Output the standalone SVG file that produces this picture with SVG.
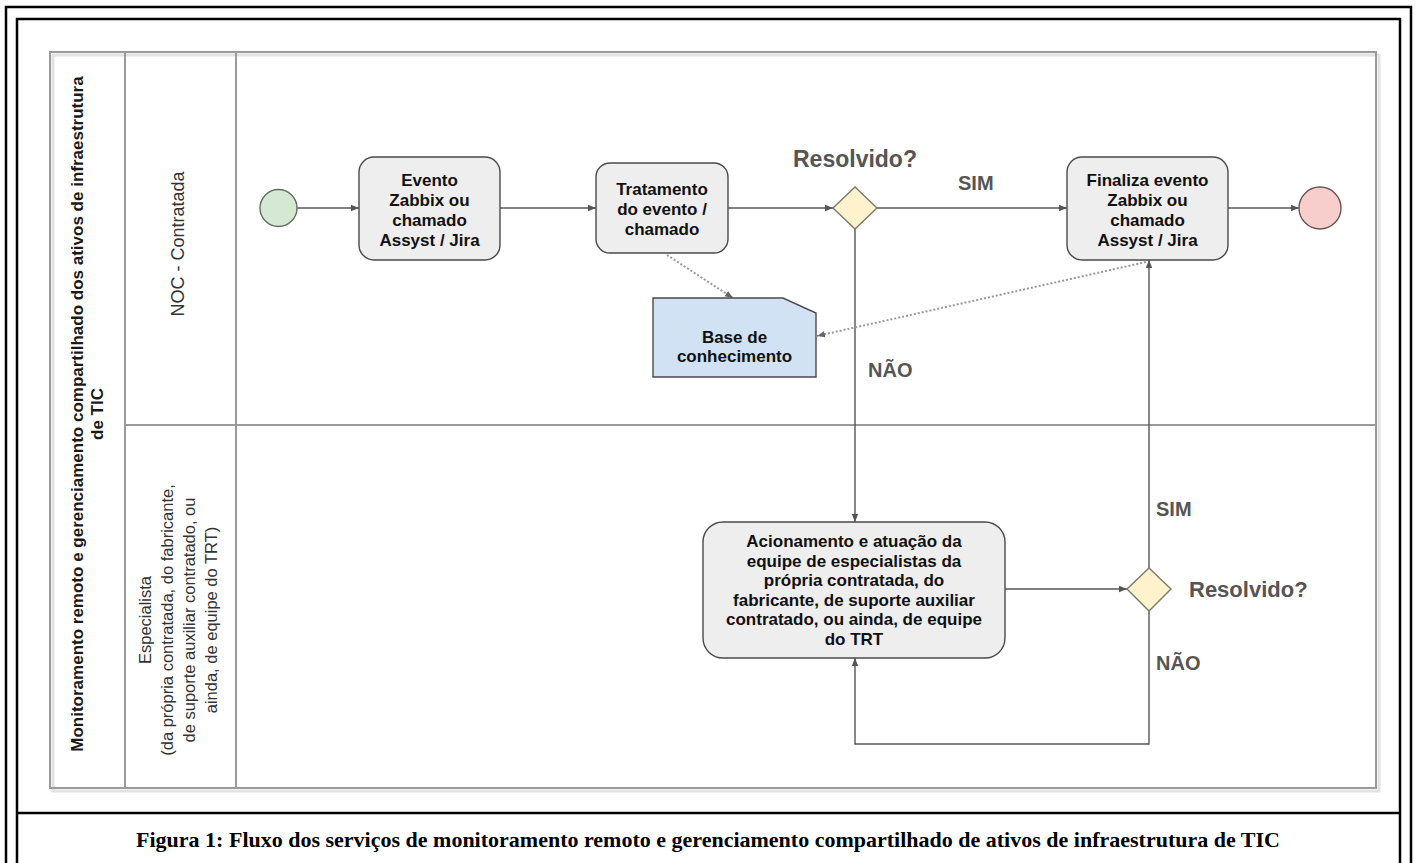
<svg xmlns="http://www.w3.org/2000/svg" width="1416" height="863" viewBox="0 0 1416 863">
<style>
.frame{fill:none;stroke:#000;stroke-width:2.5}
.pool{fill:none;stroke:#9a9a9a;stroke-width:2}
.shadow{fill:none;stroke:#e2e2e2;stroke-width:3}
.task{fill:#eeeeee;stroke:#4a4a4a;stroke-width:1.4}
.data{fill:#d0e2f3;stroke:#4a4a4a;stroke-width:1.4}
.gw{fill:#fff2cc;stroke:#7a7a6a;stroke-width:1.4}
.flow{fill:none;stroke:#555;stroke-width:1.4}
.assoc{fill:none;stroke:#9a9a9a;stroke-width:2;stroke-dasharray:2 2}
.t{font-family:"Liberation Sans",Arial,sans-serif;font-weight:bold;font-size:17px;fill:#111;text-anchor:middle}
.lbl{font-family:"Liberation Sans",Arial,sans-serif;font-weight:bold;font-size:20px;fill:#555}
.lane{font-family:"Liberation Sans",Arial,sans-serif;font-size:16.5px;fill:#333;text-anchor:middle}
.title{font-family:"Liberation Sans",Arial,sans-serif;font-weight:bold;font-size:17px;fill:#1a1a1a;text-anchor:middle}
.cap{font-family:"Liberation Serif","Times New Roman",serif;font-weight:bold;font-size:22px;fill:#000;text-anchor:middle}
</style>
<defs>
<marker id="arr" viewBox="0 0 10 10" refX="10" refY="5" markerWidth="8" markerHeight="8" markerUnits="userSpaceOnUse" orient="auto">
<path d="M0,1 L10,5 L0,9 z" fill="#555"/>
</marker>
<marker id="arrd" viewBox="0 0 10 10" refX="10" refY="5" markerWidth="8" markerHeight="8" markerUnits="userSpaceOnUse" orient="auto">
<path d="M0,1 L10,5 L0,9 z" fill="#666"/>
</marker>
</defs>
<rect x="0" y="0" width="1416" height="863" fill="#fff"/>
<g id="frame">
<rect class="frame" x="6" y="7" width="1405" height="866"/>
<rect class="frame" x="17" y="19" width="1383" height="854"/>
<line class="frame" x1="17" y1="813" x2="1400" y2="813"/>
</g>
<g id="pool">
<rect class="shadow" x="53" y="55" width="1326" height="736"/>
<rect class="pool" x="50" y="52" width="1326" height="736" fill="#fff"/>
<line class="pool" x1="125" y1="52" x2="125" y2="788"/>
<line class="pool" x1="236" y1="52" x2="236" y2="788"/>
<line class="pool" x1="125" y1="425" x2="1376" y2="425"/>
<text class="title" transform="translate(83,414) rotate(-90)">Monitoramento remoto e gerenciamento compartilhado dos ativos de infraestrutura</text>
<text class="title" transform="translate(103,414) rotate(-90)">de TIC</text>
<text class="lane" style="font-size:18px" transform="translate(184,244) rotate(-90)">NOC - Contratada</text>
<g transform="translate(0,620) rotate(-90)">
<text class="lane" x="0" y="151">Especialista</text>
<text class="lane" x="0" y="173">(da própria contratada, do fabricante,</text>
<text class="lane" x="0" y="195">de suporte auxiliar contratado, ou</text>
<text class="lane" x="0" y="217">ainda, de equipe do TRT)</text>
</g>
</g>
<g id="connectors">
<line class="flow" x1="297" y1="208" x2="359" y2="208" marker-end="url(#arr)"/>
<line class="flow" x1="500" y1="208" x2="596" y2="208" marker-end="url(#arr)"/>
<line class="flow" x1="728" y1="208" x2="833" y2="208" marker-end="url(#arr)"/>
<line class="flow" x1="877" y1="208" x2="1067" y2="208" marker-end="url(#arr)"/>
<line class="flow" x1="1228" y1="208" x2="1299" y2="208" marker-end="url(#arr)"/>
<line class="flow" x1="855" y1="229" x2="855" y2="522" marker-end="url(#arr)"/>
<line class="flow" x1="1005" y1="589" x2="1127" y2="589" marker-end="url(#arr)"/>
<line class="flow" x1="1149" y1="568" x2="1149" y2="260" marker-end="url(#arr)"/>
<polyline class="flow" points="1149,611 1149,744 855,744 855,658" marker-end="url(#arr)"/>
<line class="assoc" x1="667" y1="255" x2="733" y2="298" marker-end="url(#arrd)"/>
<line class="assoc" x1="1146" y1="262" x2="817" y2="336" marker-end="url(#arrd)"/>
<text class="lbl" x="958" y="190">SIM</text>
<text class="lbl" x="868" y="377">NÃO</text>
<text class="lbl" x="1156" y="516">SIM</text>
<text class="lbl" x="1156" y="670">NÃO</text>
</g>
<g id="start">
<circle cx="278.5" cy="208" r="18.5" fill="#d5e8d4" stroke="#5f6f5c" stroke-width="1.4"/>
</g>
<g id="evento">
<rect class="task" x="359" y="157" width="141" height="103" rx="15"/>
<text class="t" x="429.5" y="186">Evento</text>
<text class="t" x="429.5" y="206">Zabbix ou</text>
<text class="t" x="429.5" y="226">chamado</text>
<text class="t" x="429.5" y="246">Assyst / Jira</text>
</g>
<g id="tratamento">
<rect class="task" x="596" y="163" width="132" height="90" rx="14"/>
<text class="t" x="662" y="195">Tratamento</text>
<text class="t" x="662" y="215">do evento /</text>
<text class="t" x="662" y="235">chamado</text>
</g>
<g id="resolvido1">
<polygon class="gw" points="855,187 877,208 855,229 833,208"/>
<text class="lbl" x="793" y="167" style="font-size:23px">Resolvido?</text>
</g>
<g id="finaliza">
<rect class="task" x="1067" y="157" width="161" height="103" rx="15"/>
<text class="t" x="1147.5" y="186">Finaliza evento</text>
<text class="t" x="1147.5" y="206">Zabbix ou</text>
<text class="t" x="1147.5" y="226">chamado</text>
<text class="t" x="1147.5" y="246">Assyst / Jira</text>
</g>
<g id="end">
<circle cx="1320" cy="208" r="21" fill="#f8cecc" stroke="#6a5555" stroke-width="1.4"/>
</g>
<g id="base">
<path class="data" d="M653,298 L783,298 L816,313 L816,377 L653,377 Z"/>
<text class="t" x="734.5" y="343">Base de</text>
<text class="t" x="734.5" y="362">conhecimento</text>
</g>
<g id="acionamento">
<rect class="task" x="703" y="522" width="302" height="136" rx="20"/>
<text class="t" x="854" y="547">Acionamento e atuação da</text>
<text class="t" x="854" y="567">equipe de especialistas da</text>
<text class="t" x="854" y="586">própria contratada, do</text>
<text class="t" x="854" y="606">fabricante, de suporte auxiliar</text>
<text class="t" x="854" y="625">contratado, ou ainda, de equipe</text>
<text class="t" x="854" y="645">do TRT</text>
</g>
<g id="resolvido2">
<polygon class="gw" points="1149,568 1171,589 1149,611 1127,589"/>
<text class="lbl" x="1189" y="597" style="font-size:22px">Resolvido?</text>
</g>
<text class="cap" x="708" y="847">Figura 1: Fluxo dos serviços de monitoramento remoto e gerenciamento compartilhado de ativos de infraestrutura de TIC</text>
</svg>
